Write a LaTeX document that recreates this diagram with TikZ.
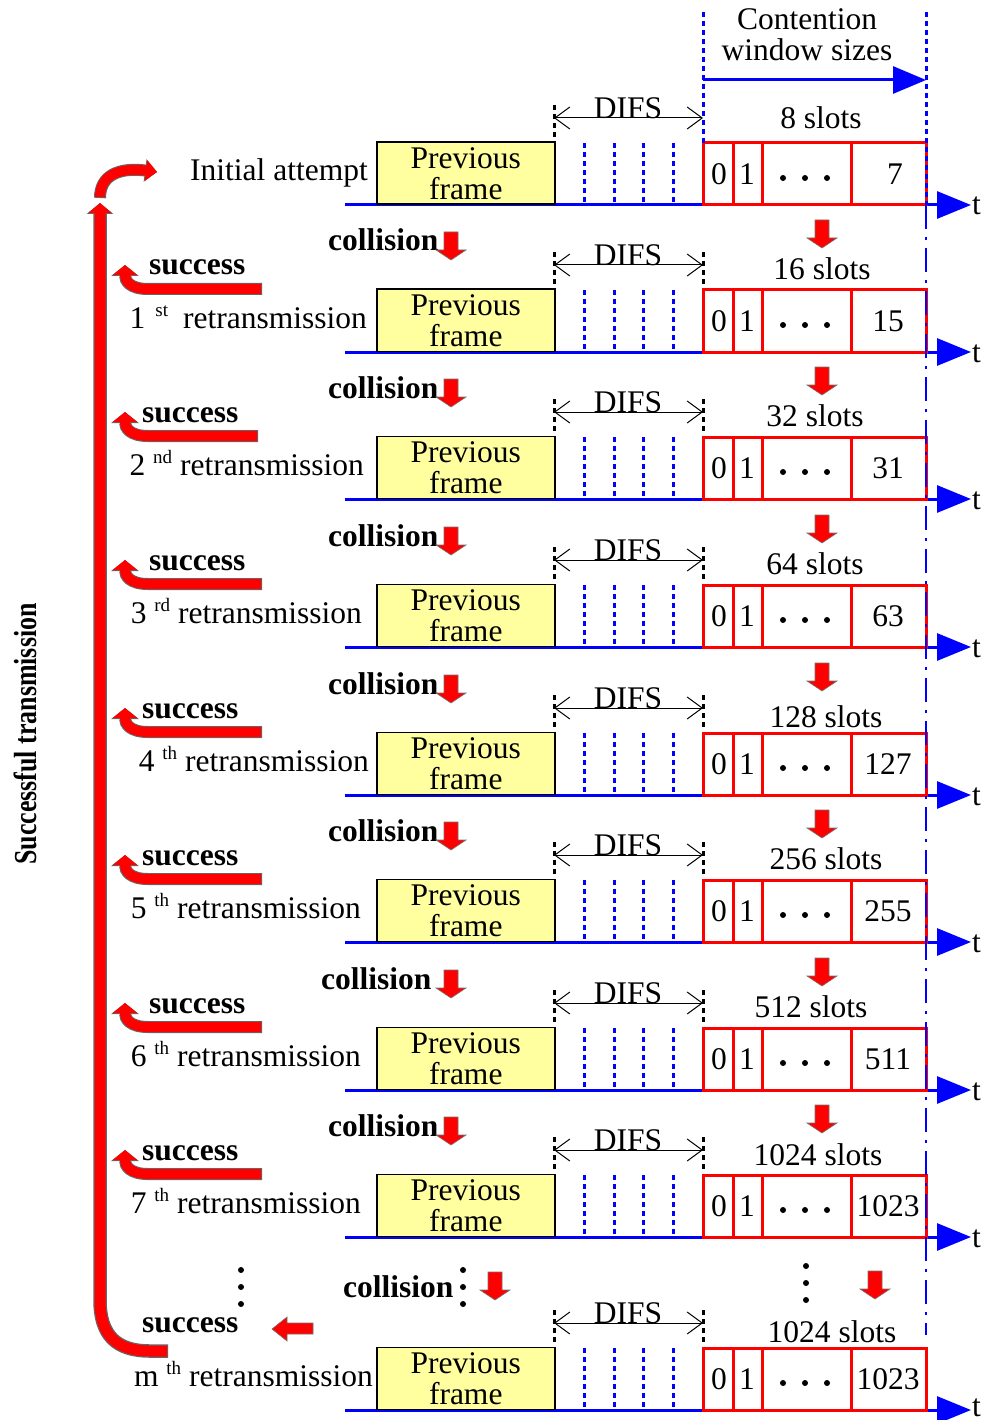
\documentclass[tikz,border=0pt]{standalone}
\usepackage{fontspec}
\setmainfont{Liberation Serif}
\usetikzlibrary{arrows.meta}
\definecolor{frameyellow}{RGB}{255,255,160}
\newcommand{\sups}[1]{\raisebox{12pt}{\fontsize{19}{19}\selectfont #1}}
\newcommand{\redDown}[3]{% name, x, ytop
  \fill[fill=red, draw=black!55, line width=0.6pt] ({#2-7},{#3}) -- ({#2+7},{#3}) -- ({#2+7},{#3+18}) -- ({#2+15},{#3+18}) -- ({#2},{#3+28}) -- ({#2-15},{#3+18}) -- ({#2-7},{#3+18}) -- cycle;
  \coordinate (#1) at ({#2},{#3+28});}
\newcommand{\succArrow}[2]{% yband, xright
  \draw[black!60, line width=12pt, -{Triangle[length=11pt,width=27pt]}] (#2,#1) -- (148,#1) .. controls (130,#1) and (125,{#1-8}) .. (125,{#1-24});
  \draw[red, line width=10pt, -{Triangle[length=10pt,width=24pt]}] ({#2-1},#1) -- (148,#1) .. controls (130,#1) and (125,{#1-8}) .. (125,{#1-24});}
\begin{document}
\begin{tikzpicture}[x=1pt,y=-1pt,
  txt/.style={font=\fontsize{31.5}{31}\selectfont, inner sep=0pt},
  btxt/.style={font=\fontsize{31.5}{31}\selectfont\bfseries, inner sep=0pt},
  prevbox/.style={draw=black, line width=1.5pt, fill=frameyellow, minimum width=178pt, minimum height=62pt, inner sep=0pt, align=center, font=\fontsize{31.5}{31}\selectfont, anchor=south west},
  axisline/.style={draw=blue, line width=3pt, -{Triangle[length=34pt,width=27pt]}},
  bluedot/.style={draw=blue, line width=3pt, dash pattern=on 5pt off 4pt},
  blackdot/.style={draw=black, line width=3pt, dash pattern=on 5pt off 4pt},
  slotbox/.style={draw=red, line width=3pt},
  difsarrow/.style={draw=black, line width=1pt, {Straight Barb[length=15pt,width=22pt]}-{Straight Barb[length=15pt,width=22pt]}},
]
\useasboundingbox (0,0) rectangle (985,1420);

% rows
\foreach \k/\yb/\last/\lx/\sx/\sdy/\slots/\tdy in {
0/205/7/895/821/87/8/10,
1/352/15/888/822/83/16/10,
2/499/31/888/815/83/32/10,
3/647/63/888/815/83/64/10,
4/795/127/888/826/78/128/10,
5/942/255/888/826/83/256/10,
6/1090/511/888/811/83/512/10,
7/1237/1023/888/818/82/1024/10,
8/1410/1023/888/832/78/1024/6}
{
 \coordinate (axS\k) at (345,\yb);
 \coordinate (axE\k) at (971,\yb);
 \draw[axisline] (axS\k) -- (axE\k);
 \node[txt, anchor=base west] (t\k) at (972,{\yb+\tdy}) {t};
 \node[prevbox] (prev\k) at (376,\yb) {Previous\\frame};
 \foreach \x in {584,614,643,673} \draw[bluedot] (\x,{\yb-62}) -- (\x,\yb);
 \draw[blackdot] (554,{\yb-100}) -- (554,{\yb-66});
 \ifnum\k>0 \draw[blackdot] (703,{\yb-100}) -- (703,{\yb-66}); \fi
 \coordinate (dL\k) at (554,{\yb-87});
 \coordinate (dR\k) at (703,{\yb-87});
 \draw[difsarrow] (dL\k) -- (dR\k);
 \node[txt] (difs\k) at (628,{\yb-97}) {DIFS};
 \draw[slotbox] (703,{\yb-62}) rectangle (926,\yb);
 \foreach \x in {733,762,851} \draw[slotbox] (\x,{\yb-62}) -- (\x,\yb);
 \node[txt] (zero\k) at (719,{\yb-31}) {0};
 \node[txt] (one\k) at (747,{\yb-31}) {1};
 \foreach \x in {783,805,827} \fill (\x,{\yb-27}) circle (3pt);
 \node[txt] (last\k) at (\lx,{\yb-31}) {\last};
 \node[txt] (slots\k) at (\sx,{\yb-\sdy}) {\slots\ slots};
}

% contention window
\draw[bluedot] (703,12) -- (703,143);
\draw[bluedot] (926,12) -- (926,205);
\draw[blue, line width=2.5pt, dash pattern=on 24pt off 8pt on 3pt off 8pt] (926,205) -- (926,1335);
\coordinate (cwL) at (703,80);
\coordinate (cwR) at (926,80);
\draw[blue, line width=3pt, -{Triangle[length=33pt,width=27pt]}] (cwL) -- (cwR);
\node[txt, align=center] (cw) at (807,35) {Contention\\window sizes};

% row labels
\node[txt, anchor=base east] (lab0) at (368,181) {Initial attempt};
\node[txt, anchor=base east] (lab1) at (367,328) {1\hspace{10pt}\sups{st}\hspace{15pt}retransmission};
\node[txt, anchor=base east] (lab2) at (364,475) {2 \sups{nd} retransmission};
\node[txt, anchor=base east] (lab3) at (362,623) {3 \sups{rd} retransmission};
\node[txt, anchor=base east] (lab4) at (369,771) {4 \sups{th} retransmission};
\node[txt, anchor=base east] (lab5) at (361,918) {5 \sups{th} retransmission};
\node[txt, anchor=base east] (lab6) at (361,1066) {6 \sups{th} retransmission};
\node[txt, anchor=base east] (lab7) at (361,1213) {7 \sups{th} retransmission};
\node[txt, anchor=base east] (lab8) at (373,1386) {m \sups{th} retransmission};

% success arrows and labels
\foreach \k/\yb/\sxx/\bx in {1/352/149/262, 2/499/142/258, 3/647/149/262, 4/795/142/262, 5/942/142/262, 6/1090/149/262, 7/1237/142/262}
{
 \succArrow{\yb-63}{\bx}
 \node[btxt, anchor=base west] (succ\k) at (\sxx,{\yb-77}) {success};
}
\node[btxt, anchor=base west] (succ8) at (142,1332) {success};

% collision labels and arrows
\foreach \k/\yb/\cx in {1/352/328, 2/499/328, 3/647/328, 4/795/328, 5/942/328, 6/1090/321, 7/1237/328}
{
 \node[btxt, anchor=base west] (coll\k) at (\cx,{\yb-101}) {collision};
 \redDown{cl\k}{451}{\yb-120}
 \redDown{cr\k}{822}{\yb-132}
}
\node[btxt, anchor=base west] (coll8) at (343,1297) {collision};
\redDown{cl8}{495}{1272}
\redDown{cr8}{875}{1271}

% vertical ellipses
\foreach \x in {241,463} \foreach \y in {1270,1287,1304} \fill (\x,\y) circle (3pt);
\foreach \y in {1266,1283,1300} \fill (806,\y) circle (3pt);

% left arrow in last block
\fill[fill=red, draw=black!55, line width=0.6pt] (313,1323) -- (287,1323) -- (287,1317) -- (272,1329) -- (287,1341) -- (287,1334) -- (313,1334) -- cycle;

% big return arrow
\draw[black!60, line width=13.5pt, -{Triangle[length=11pt,width=26pt]}] (168,1351) -- (150,1351) .. controls (116,1351) and (100,1335) .. (100,1300) -- (100,203);
\draw[red, line width=11pt, -{Triangle[length=10pt,width=23pt]}] (167,1351) -- (150,1351) .. controls (116,1351) and (100,1335) .. (100,1300) -- (100,203);
\draw[black!60, line width=12pt, -{Triangle[length=12pt,width=22pt]}] (100,198) .. controls (100,176) and (118,167) .. (157,172);
\draw[red, line width=10pt, -{Triangle[length=11pt,width=20pt]}] (100,197) .. controls (100,176) and (118,167) .. (157,172);

% vertical title
\node[font=\fontsize{32}{32}\selectfont\bfseries, inner sep=0pt, rotate=90] (title) at (25,734) {\scalebox{0.81}[1]{Successful transmission}};
\end{tikzpicture}
\end{document}
